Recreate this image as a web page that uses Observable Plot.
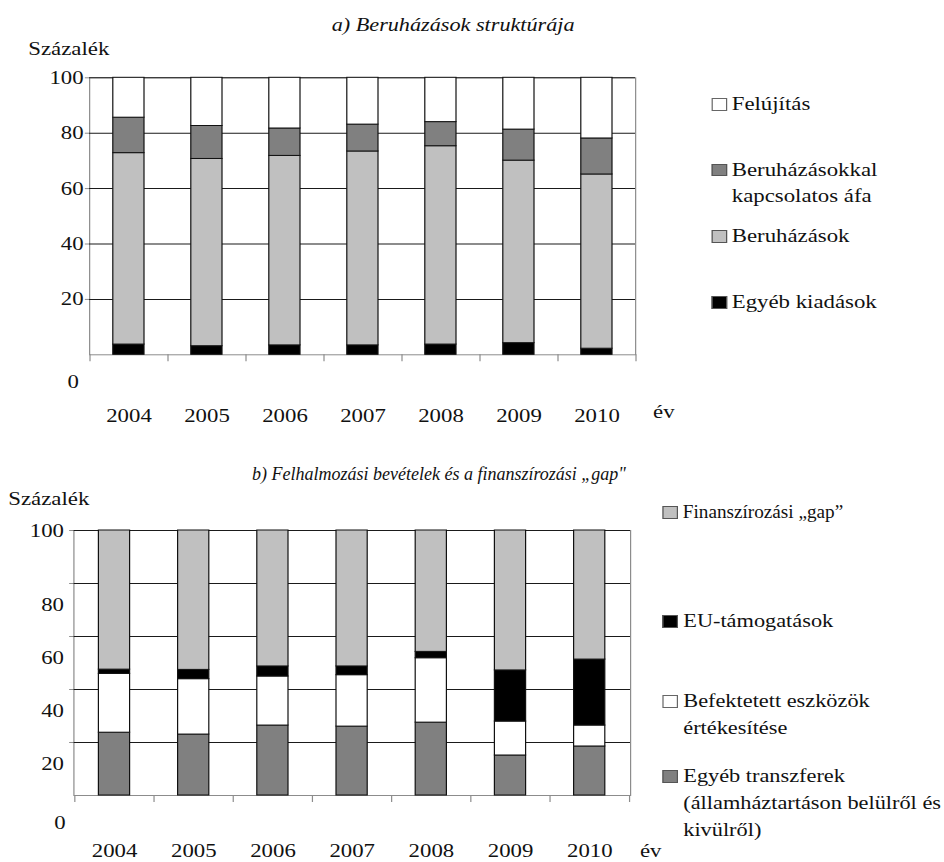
<!DOCTYPE html>
<html><head><meta charset="utf-8">
<script src="https://cdn.jsdelivr.net/npm/d3@7"></script>
<script src="https://cdn.jsdelivr.net/npm/@observablehq/plot@0.6"></script>
<style>
html,body{margin:0;padding:0;background:#fff;overflow:hidden;}
#stage{position:relative;width:787px;height:862px;transform:scaleX(1.2);transform-origin:0 0;font-family:"Liberation Serif","Times New Roman",serif;color:#111;}
.t{position:absolute;white-space:nowrap;font-size:19px;line-height:1;}
.title{font-style:italic;font-size:18.5px;}
.narrow{transform:scaleX(0.8333);transform-origin:0 0;font-size:18px;}
.leg{position:absolute;font-size:19px;line-height:26.7px;white-space:nowrap;}
.legb{font-size:18.6px;}
.sw{position:absolute;left:0;top:7.1px;width:13px;height:12.5px;box-sizing:border-box;border:1px solid #555;}
.plot{position:absolute;left:0;}
</style></head><body><div id="stage"></div>
<script>
const years = ["2004","2005","2006","2007","2008","2009","2010"];
// a) Beruházások struktúrája (segment shares, %)
const egyebKiadasok = [3.7, 3.1, 3.4, 3.4, 3.7, 4.2, 2.2];
const beruhazasok   = [69.1, 67.6, 68.4, 70.0, 71.6, 65.9, 62.9];
const beruhazasAfa  = [12.8, 11.9, 9.9, 9.7, 8.7, 11.2, 13.0];
const felujitas     = [14.4, 17.4, 18.3, 16.9, 16.0, 18.7, 21.9];
// b) Felhalmozási bevételek és a finanszírozási „gap” (segment shares, %)
const egyebTranszferek = [23.7, 23.0, 26.4, 26.0, 27.5, 15.1, 18.5];
const befektetett      = [22.2, 20.9, 18.5, 19.4, 24.3, 12.8, 7.9];
const euTamogatasok    = [1.6, 3.5, 3.8, 3.3, 2.4, 19.3, 24.9];
const finGap           = [52.5, 52.6, 51.3, 51.3, 45.8, 52.8, 48.7];

const yTicks = [100, 80, 60, 40, 20];
const yLow = [80, 60, 40, 20];

// stacking order bottom -> top
const seriesA = ["Egyéb kiadások", "Beruházások", "Beruházásokkal\nkapcsolatos áfa", "Felújítás"];
const valuesA = [egyebKiadasok, beruhazasok, beruhazasAfa, felujitas];
const colorsA = ["#000000", "#c0c0c0", "#808080", "#ffffff"];

const seriesB = ["Egyéb transzferek\n(államháztartáson belülről és\nkivülről)", "Befektetett eszközök\nértékesítése", "EU-támogatások", "Finanszírozási „gap”"];
const valuesB = [egyebTranszferek, befektetett, euTamogatasok, finGap];
const colorsB = ["#808080", "#ffffff", "#000000", "#c0c0c0"];

function toLong(series, values) {
  const out = [];
  series.forEach((s, k) => years.forEach((y, i) => out.push({year: y, series: s, value: values[k][i]})));
  return out;
}

const GRAY = "#8c8c8c";

function chart(o) {
  const pw = o.W - o.ml - o.mr, ph = o.H - o.mt - o.mb, step = pw / years.length;
  const marks = [
    Plot.frame({stroke: GRAY}),
    Plot.gridY(yTicks, {stroke: "#1a1a1a", strokeOpacity: 1, strokeWidth: 1}),
    Plot.barY(toLong(o.series, o.values), Plot.stackY({x: "year", y: "value", fill: "series", stroke: "#111", strokeWidth: 1})),
    Plot.ruleY(yTicks, {stroke: GRAY, insetLeft: -3.5, insetRight: pw}),
    Plot.ruleX(years, {stroke: GRAY, dx: -step / 2, insetTop: ph, insetBottom: -7}),
    Plot.ruleX([years[years.length - 1]], {stroke: GRAY, dx: step / 2, insetTop: ph, insetBottom: -7}),
    Plot.axisX({tickSize: 0, tickPadding: o.yearPad, label: null}),
    Plot.axisY([0], {tickSize: 0, tickPadding: o.zeroPad, dy: 27, label: null})
  ];
  if (o.lowDy) {
    marks.push(Plot.axisY([100], {tickSize: 0, tickPadding: o.tickPad, label: null}));
    marks.push(Plot.axisY(yLow, {tickSize: 0, tickPadding: o.tickPad, dy: o.lowDy, label: null}));
  } else {
    marks.push(Plot.axisY(yTicks, {tickSize: 0, tickPadding: o.tickPad, label: null}));
  }
  const svg = Plot.plot({
    width: o.W, height: o.H,
    marginTop: o.mt, marginBottom: o.mb, marginLeft: o.ml, marginRight: o.mr,
    style: {fontFamily: "'Liberation Serif', 'Times New Roman', serif", fontSize: "19px", color: "#111", background: "transparent", overflow: "visible"},
    x: {domain: years, paddingInner: 0.6, paddingOuter: 0.3, align: 0.5, axis: null},
    y: {domain: [0, 100], axis: null},
    color: {domain: o.series, range: o.colors},
    marks
  });
  svg.classList.add("plot");
  svg.style.top = o.top + "px";
  return svg;
}

const stage = document.getElementById("stage");
stage.appendChild(chart({series: seriesA, values: valuesA, colors: colorsA, top: 60, W: 787, H: 380, mt: 17.3, mb: 85.7, ml: 74.2, mr: 257.8, tickPad: 5, zeroPad: 9, yearPad: 54, lowDy: 0}));
stage.appendChild(chart({series: seriesB, values: valuesB, colors: colorsB, top: 500, W: 787, H: 362, mt: 30, mb: 67, ml: 61.1, mr: 262, tickPad: 8.3, zeroPad: 7, yearPad: 48.5, lowDy: 21}));

function addText(txt, left, top, cls) {
  const d = document.createElement("div");
  d.className = "t " + (cls || "");
  d.textContent = txt;
  d.style.left = left + "px";
  d.style.top = top + "px";
  stage.appendChild(d);
}
addText("a) Beruházások struktúrája", 276.4, 16.1, "title");
addText("b) Felhalmozási bevételek és a finanszírozási „gap\"", 209.7, 464.9, "title narrow");
addText("Százalék", 23.6, 39.1);
addText("Százalék", 6.9, 488.6);
addText("év", 544.2, 402.4);
addText("év", 533.3, 841.1);

function addLegend(series, colors, left, textOff, tops, extraCls, squeeze) {
  const idx = series.map((_, i) => i).reverse();
  idx.forEach((k, j) => {
    const d = document.createElement("div");
    d.className = "leg " + (extraCls || "");
    d.style.left = left + "px";
    d.style.top = tops[j] + "px";
    const sw = document.createElement("div");
    sw.className = "sw";
    sw.style.background = colors[k];
    if (colors[k] === "#ffffff") sw.style.borderColor = "#666";
    d.appendChild(sw);
    const t = document.createElement("div");
    t.style.paddingLeft = textOff + "px";
    const inner = document.createElement("span");
    inner.style.display = "inline-block";
    if (squeeze && squeeze[k]) { inner.style.transform = `scaleX(${squeeze[k]})`; inner.style.transformOrigin = "0 0"; }
    series[k].split("\n").forEach((line, n) => {
      if (n) inner.appendChild(document.createElement("br"));
      inner.appendChild(document.createTextNode(line));
    });
    t.appendChild(inner);
    d.appendChild(t);
    stage.appendChild(d);
  });
}
addLegend(seriesA, colorsA, 593.1, 16.7, [90.95, 156.65, 223.35, 289.35]);
addLegend(seriesB, colorsB, 552.2, 17.2, [498.95, 608.35, 688.35, 763.35], "legb", {3: 0.86});
</script></body></html>
